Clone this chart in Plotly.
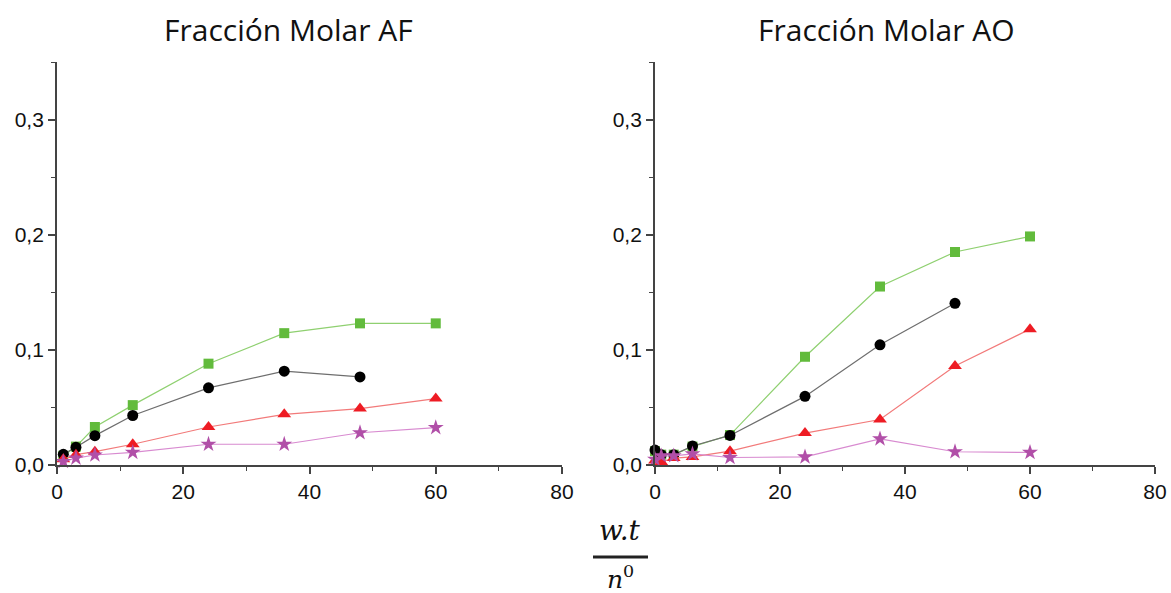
import plotly.graph_objects as go

# Reaction coordinate w.t / n0
x_af = [1, 3, 6, 12, 24, 36, 48, 60]
x_ao = [0, 1, 3, 6, 12, 24, 36, 48, 60]

# Fracción molar AF
af_green = [0.008, 0.016, 0.033, 0.052, 0.088, 0.1145, 0.123, 0.123]
af_black = [0.0093, 0.0154, 0.0255, 0.043, 0.067, 0.0815, 0.0765]
af_red = [0.005, 0.009, 0.0116, 0.018, 0.033, 0.044, 0.049, 0.0577]
af_purple = [0.003, 0.006, 0.0087, 0.011, 0.018, 0.018, 0.028, 0.0325]

# Fracción molar AO
ao_green = [0.012, 0.009, 0.009, 0.016, 0.026, 0.094, 0.155, 0.185, 0.1985]
ao_black = [0.013, 0.009, 0.009, 0.0165, 0.0257, 0.0596, 0.1044, 0.1404]
ao_red = [0.004, 0.0027, 0.006, 0.007, 0.012, 0.0277, 0.0395, 0.086, 0.118]
ao_purple = [0.005, 0.008, 0.008, 0.0097, 0.0065, 0.007, 0.0227, 0.0115, 0.0109]

titles = ["Fracción Molar AF", "Fracción Molar AO"]
x_ticks = [0, 20, 40, 60, 80]
y_ticks = [0.0, 0.1, 0.2, 0.3]

styles = [
    dict(line="#8fd070", marker="#62bb3c", symbol="square", size=10),
    dict(line="#6e6e6e", marker="#000000", symbol="circle", size=11),
    dict(line="#f27a7a", marker="#ee1c24", symbol="triangle-up", size=12),
    dict(line="#d88ad0", marker="#b14fa8", symbol="star", size=12),
]

W, H = 1171, 593


def px_x(p):
    return p / W


def px_y(p):
    return 1 - p / H


fig = go.Figure()

panels = [
    ("x", "y", x_af, [af_green, af_black, af_red, af_purple]),
    ("x2", "y2", x_ao, [ao_green, ao_black, ao_red, ao_purple]),
]
for xa, ya, xs, series in panels:
    for st, ys in zip(styles, series):
        fig.add_trace(go.Scatter(
            x=xs[:len(ys)], y=ys, xaxis=xa, yaxis=ya, mode="lines+markers",
            line=dict(color=st["line"], width=1.2),
            marker=dict(color=st["marker"], symbol=st["symbol"], size=st["size"],
                        line=dict(width=0)),
            showlegend=False, cliponaxis=False,
        ))

axis_common = dict(
    showline=True, linecolor="#444444", linewidth=1.8, mirror=False,
    ticks="outside", ticklen=7, tickwidth=1.5, tickcolor="#444444",
    showgrid=False, zeroline=False, automargin=False,
    tickfont=dict(family="Liberation Sans, Arial", size=21, color="#111111"),
    minor=dict(ticks="outside", ticklen=4, tickwidth=1.3, tickcolor="#444444"),
)

y_dom = [px_y(465), px_y(62)]
fig.update_layout(
    width=W, height=H,
    margin=dict(l=0, r=0, t=0, b=0, pad=0),
    paper_bgcolor="white", plot_bgcolor="white",
    separators=",.",
    xaxis=dict(domain=[px_x(57), px_x(562)], range=[0, 80], tickvals=x_ticks,
               minor_dtick=10, anchor="y", **axis_common),
    yaxis=dict(domain=y_dom, range=[0, 0.35], tickvals=y_ticks, tickformat=".1f",
               minor_dtick=0.05, anchor="x", **axis_common),
    xaxis2=dict(domain=[px_x(655), px_x(1155)], range=[0, 80], tickvals=x_ticks,
                minor_dtick=10, anchor="y2", **axis_common),
    yaxis2=dict(domain=y_dom, range=[0, 0.35], tickvals=y_ticks, tickformat=".1f",
                minor_dtick=0.05, anchor="x2", **axis_common),
)

# Panel titles
for cx, t in zip([288, 886], titles):
    fig.add_annotation(x=px_x(cx), y=px_y(29), xref="paper", yref="paper",
                       xanchor="center", yanchor="middle",
                       text=t, showarrow=False,
                       font=dict(family="Open Sans, Noto Sans", size=30, color="#111111"))

# Shared x label: w.t / n^0 written as a fraction
fx = px_x(620)
fig.add_annotation(x=fx, y=px_y(530), xref="paper", yref="paper",
                   text="<i>w.t</i>", showarrow=False,
                   xanchor="center", yanchor="middle",
                   font=dict(family="DejaVu Serif", size=28, color="#111111"))
fig.add_shape(type="line", xref="paper", yref="paper",
              x0=px_x(593), x1=px_x(648), y0=px_y(557), y1=px_y(557),
              line=dict(color="#222222", width=3))
fig.add_annotation(x=fx, y=px_y(559), xref="paper", yref="paper",
                   text="<i>n</i><sup>0</sup>", showarrow=False,
                   xanchor="center", yanchor="top",
                   font=dict(family="DejaVu Serif", size=25, color="#111111"))

fig.write_html("out.html")
